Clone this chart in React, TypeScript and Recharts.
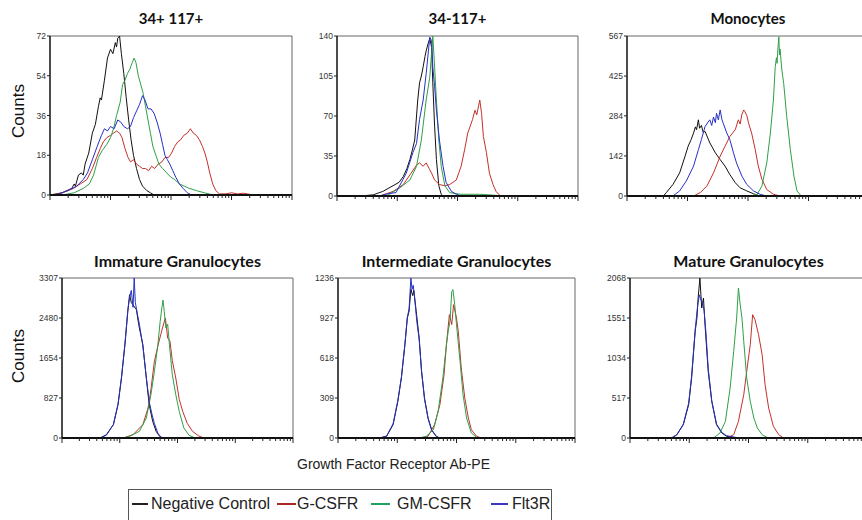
import React from "react";
import { LineChart, Line, XAxis, YAxis, ReferenceLine } from "recharts";

type Pt = [number, number];

// x = log decade of the PE channel (0..4), y = counts

// 34+ 117+
const p1Neg: Pt[] = [[0,0],[0.1,0.5],[0.2,1],[0.28,2],[0.36,3],[0.4,5],[0.42,4],[0.47,9],[0.52,10],[0.55,9],[0.58,14],[0.64,19],[0.7,28],[0.75,32],[0.8,40],[0.83,44],[0.85,43],[0.9,52],[0.95,62],[1.0,66],[1.04,64],[1.08,69],[1.1,67],[1.12,71],[1.15,72],[1.18,64],[1.22,55],[1.26,44],[1.3,34],[1.34,25],[1.38,18],[1.43,12],[1.48,7],[1.53,4],[1.6,2],[1.66,1],[1.72,0]];
const p1G: Pt[] = [[0.05,0],[0.2,1],[0.39,3],[0.5,5],[0.61,7],[0.7,12],[0.77,17],[0.83,21],[0.88,24],[0.94,26],[1.0,27],[1.05,28],[1.1,29],[1.15,28],[1.19,26],[1.24,21],[1.29,17],[1.33,15],[1.38,16],[1.43,14],[1.48,13],[1.53,12],[1.58,12],[1.63,11],[1.68,13],[1.73,12],[1.79,14],[1.85,15],[1.9,17],[1.96,17],[2.01,19],[2.06,22],[2.11,24],[2.16,25],[2.21,27],[2.27,28],[2.32,30],[2.37,28],[2.42,27],[2.47,25],[2.52,22],[2.56,19],[2.6,15],[2.64,10],[2.69,5],[2.74,2],[2.8,0.5],[2.9,0.5],[3.0,1],[3.1,0.5],[3.2,0.8],[3.3,0.3],[3.36,0]];
const p1Gm: Pt[] = [[0.2,0],[0.4,1],[0.55,3],[0.65,5],[0.72,9],[0.8,17],[0.86,20],[0.94,23],[1.0,26],[1.05,30],[1.1,36],[1.16,42],[1.2,50],[1.24,52],[1.28,55],[1.32,57],[1.36,60],[1.39,62],[1.42,60],[1.46,54],[1.5,50],[1.54,46],[1.58,40],[1.62,34],[1.66,28],[1.7,22],[1.75,18],[1.8,14],[1.86,12],[1.93,10],[2.0,8],[2.06,7],[2.14,5],[2.22,4],[2.3,3],[2.42,2],[2.55,1],[2.7,0]];
const p1Flt: Pt[] = [[0.1,0],[0.3,2],[0.44,4],[0.55,7],[0.62,10],[0.7,16],[0.78,22],[0.85,27],[0.9,30],[0.95,29],[1.0,31],[1.06,30],[1.12,34],[1.17,33],[1.22,31],[1.28,30],[1.33,31],[1.38,35],[1.43,38],[1.48,41],[1.53,45],[1.57,43],[1.62,39],[1.67,39],[1.72,37],[1.77,33],[1.82,28],[1.86,23],[1.9,18],[1.94,16],[1.98,14],[2.03,11],[2.08,8],[2.14,5],[2.2,3],[2.27,1],[2.34,0]];

// 34-117+
const p2Neg: Pt[] = [[0.38,0],[0.6,1],[0.76,4],[0.93,9],[1.03,12],[1.1,17],[1.16,24],[1.21,32],[1.25,40],[1.29,49],[1.32,70],[1.34,84],[1.37,99],[1.4,105],[1.43,113],[1.46,122],[1.48,127],[1.51,133],[1.54,138],[1.57,130],[1.59,99],[1.62,61],[1.65,32],[1.69,9],[1.73,1.5],[1.76,0]];
const p2G: Pt[] = [[0.71,0],[0.93,4],[1.1,10],[1.23,20],[1.32,27],[1.37,29],[1.43,26],[1.48,29],[1.53,24],[1.57,20],[1.62,14],[1.7,10],[1.79,9],[1.87,10],[1.98,14],[2.06,26],[2.12,41],[2.17,55],[2.25,67],[2.29,75],[2.32,71],[2.37,84],[2.4,72],[2.43,52],[2.48,38],[2.53,20],[2.59,10],[2.64,4],[2.7,0.6],[2.76,0]];
const p2Gm: Pt[] = [[0.82,0],[1.04,7],[1.21,14],[1.32,26],[1.4,49],[1.48,84],[1.54,104],[1.59,140],[1.62,113],[1.65,84],[1.69,49],[1.73,26],[1.79,9],[1.87,3],[2.04,1.5],[2.37,1.5],[2.64,0.6],[2.7,0]];
const p2Flt: Pt[] = [[0.7,0],[0.85,2],[0.98,3],[1.15,20],[1.26,38],[1.32,46],[1.37,67],[1.43,84],[1.48,107],[1.54,139],[1.57,136],[1.59,113],[1.62,96],[1.65,75],[1.7,49],[1.76,26],[1.81,12],[1.9,4],[1.98,1.5],[2.06,0]];

// Monocytes
const p3Neg: Pt[] = [[0.6,0],[0.65,12],[0.76,41],[0.87,82],[0.96,141],[1.01,176],[1.06,200],[1.1,223],[1.13,245],[1.15,235],[1.18,270],[1.2,240],[1.23,250],[1.26,225],[1.29,229],[1.37,188],[1.46,153],[1.54,129],[1.62,106],[1.7,76],[1.79,47],[1.87,29],[1.98,18],[2.09,8],[2.2,0]];
const p3G: Pt[] = [[1.1,0],[1.21,12],[1.32,35],[1.43,82],[1.54,141],[1.62,176],[1.7,211],[1.79,235],[1.84,270],[1.87,255],[1.9,290],[1.93,305],[1.95,299],[1.98,285],[2.01,258],[2.06,223],[2.12,164],[2.17,106],[2.23,59],[2.31,23],[2.42,6],[2.53,0]];
const p3Gm: Pt[] = [[2.04,0],[2.15,6],[2.23,35],[2.31,117],[2.37,223],[2.42,340],[2.45,458],[2.47,490],[2.48,470],[2.5,540],[2.51,564],[2.52,500],[2.53,520],[2.56,446],[2.59,399],[2.64,282],[2.7,164],[2.76,70],[2.81,18],[2.87,2],[2.92,0]];
const p3Flt: Pt[] = [[0.76,0],[0.87,18],[0.98,53],[1.1,106],[1.18,164],[1.23,200],[1.29,246],[1.34,262],[1.37,270],[1.4,250],[1.43,280],[1.46,260],[1.48,293],[1.51,270],[1.54,305],[1.57,270],[1.59,258],[1.65,223],[1.7,200],[1.76,153],[1.81,117],[1.9,70],[1.98,41],[2.09,18],[2.2,6],[2.31,0]];

// Immature Granulocytes
const p4Neg: Pt[] = [[0.66,0],[0.77,69],[0.89,276],[0.97,689],[1.03,1240],[1.09,1929],[1.14,2618],[1.17,2963],[1.2,2800],[1.23,2750],[1.29,2650],[1.31,2480],[1.34,2274],[1.4,1929],[1.46,1240],[1.51,689],[1.57,345],[1.63,138],[1.69,34],[1.74,0]];
const p4G: Pt[] = [[1.06,0],[1.23,69],[1.4,276],[1.49,620],[1.54,1000],[1.6,1585],[1.66,1900],[1.71,2136],[1.74,2274],[1.79,2480],[1.83,2067],[1.87,2000],[1.91,1600],[1.97,1240],[2.03,800],[2.09,551],[2.17,300],[2.26,138],[2.37,40],[2.46,0]];
const p4Gm: Pt[] = [[1.06,0],[1.17,34],[1.34,138],[1.46,413],[1.54,896],[1.6,1378],[1.66,1929],[1.7,2412],[1.73,2700],[1.75,2850],[1.77,2618],[1.8,2274],[1.83,2350],[1.86,1929],[1.91,1309],[1.97,896],[2.03,551],[2.11,207],[2.2,55],[2.31,0]];
const p4Flt: Pt[] = [[0.66,0],[0.77,60],[0.89,280],[0.97,700],[1.03,1250],[1.09,1950],[1.14,2650],[1.17,2900],[1.2,3050],[1.23,2700],[1.25,3307],[1.27,2800],[1.3,2600],[1.34,2350],[1.4,1900],[1.46,1250],[1.51,750],[1.56,480],[1.6,300],[1.66,100],[1.71,20],[1.77,0]];

// Intermediate Granulocytes
const p5Neg: Pt[] = [[0.7,0],[0.82,13],[0.93,103],[1.01,283],[1.07,464],[1.13,721],[1.17,927],[1.2,979],[1.23,1150],[1.26,1100],[1.28,1140],[1.32,979],[1.37,773],[1.41,515],[1.46,309],[1.52,155],[1.58,64],[1.66,13],[1.72,0]];
const p5G: Pt[] = [[1.38,0],[1.52,13],[1.63,103],[1.72,258],[1.79,489],[1.83,721],[1.88,953],[1.92,876],[1.95,1030],[2.0,927],[2.03,824],[2.08,541],[2.14,309],[2.2,155],[2.25,64],[2.34,13],[2.42,0]];
const p5Gm: Pt[] = [[1.38,0],[1.49,13],[1.61,64],[1.69,206],[1.77,464],[1.83,721],[1.86,824],[1.89,901],[1.92,1133],[1.94,1146],[1.97,1030],[2.0,876],[2.06,592],[2.11,335],[2.17,155],[2.25,39],[2.34,5],[2.39,0]];
const p5Flt: Pt[] = [[0.7,0],[0.82,15],[0.93,110],[1.01,290],[1.07,470],[1.13,730],[1.17,930],[1.2,1000],[1.23,1236],[1.25,1150],[1.27,1180],[1.3,1050],[1.33,900],[1.37,760],[1.41,520],[1.46,300],[1.52,150],[1.58,60],[1.66,10],[1.72,0]];

// Mature Granulocytes
const p6Neg: Pt[] = [[0.7,0],[0.79,43],[0.9,172],[0.99,431],[1.04,775],[1.1,1378],[1.13,1551],[1.15,1809],[1.18,2068],[1.21,1680],[1.24,1809],[1.27,1422],[1.32,862],[1.38,474],[1.46,172],[1.55,65],[1.63,22],[1.75,8],[1.86,0]];
const p6G: Pt[] = [[1.63,0],[1.75,43],[1.83,215],[1.92,560],[1.97,862],[2.03,1206],[2.07,1594],[2.11,1529],[2.17,1335],[2.23,1077],[2.28,689],[2.34,388],[2.42,151],[2.51,43],[2.59,0]];
const p6Gm: Pt[] = [[1.41,0],[1.52,65],[1.61,215],[1.69,646],[1.75,1120],[1.8,1551],[1.83,1939],[1.86,1723],[1.89,1551],[1.92,1249],[1.97,775],[2.03,474],[2.09,258],[2.15,129],[2.23,43],[2.31,9],[2.37,0]];
const p6Flt: Pt[] = [[0.7,0],[0.79,40],[0.9,180],[0.99,450],[1.04,800],[1.1,1400],[1.14,1700],[1.17,1850],[1.19,1800],[1.22,1750],[1.25,1650],[1.28,1380],[1.32,900],[1.38,480],[1.46,180],[1.55,70],[1.63,30],[1.75,12],[1.86,0]];

const titles = ["34+ 117+", "34-117+", "Monocytes", "Immature Granulocytes", "Intermediate Granulocytes", "Mature Granulocytes"];
const yTicks = [
  [0, 18, 36, 54, 72],
  [0, 35, 70, 105, 140],
  [0, 142, 284, 425, 567],
  [0, 827, 1654, 2480, 3307],
  [0, 309, 618, 927, 1236],
  [0, 517, 1034, 1551, 2068],
];
const seriesNames = ["Negative Control", "G-CSFR", "GM-CSFR", "Flt3R"];
const panelData = [
  [p1Neg, p1G, p1Gm, p1Flt],
  [p2Neg, p2G, p2Gm, p2Flt],
  [p3Neg, p3G, p3Gm, p3Flt],
  [p4Neg, p4G, p4Gm, p4Flt],
  [p5Neg, p5G, p5Gm, p5Flt],
  [p6Neg, p6G, p6Gm, p6Flt],
];

const COLORS = ["#111111", "#c4302b", "#2ea046", "#2630c4"];
const LEGEND_COLORS = ["#222222", "#a82828", "#22a060", "#3a3ac0"];

// plot boxes in page pixels: left, top, width, height, title top, title size
const boxes = [
  { l: 50, t: 36, w: 242, h: 159, tt: 9, fs: 15 },
  { l: 337, t: 36, w: 241, h: 160, tt: 9, fs: 15 },
  { l: 627, t: 36, w: 242, h: 160, tt: 9, fs: 15 },
  { l: 62, t: 278, w: 231, h: 160, tt: 252, fs: 16 },
  { l: 338, t: 278, w: 237, h: 160, tt: 252, fs: 16 },
  { l: 630, t: 278, w: 237, h: 160, tt: 252, fs: 16 },
];

// legend layout: line start, line end, text start (page x)
const legendPos = [
  [132, 148, 151],
  [277, 296, 297],
  [371, 390, 397],
  [491, 508, 512],
];

const xTicks: number[] = [];
for (let d = 0; d < 4; d++) {
  xTicks.push(d);
  for (let k = 2; k < 10; k++) xTicks.push(d + Math.log10(k));
}
xTicks.push(4);

const XTick = (props: any) => {
  const { x, y, payload } = props;
  const v = payload.value;
  const major = Math.abs(v - Math.round(v)) < 1e-6;
  return <line x1={x} x2={x} y1={y} y2={y + (major ? 5 : 3)} stroke="#222" strokeWidth={1} />;
};

const YTick = (props: any) => {
  const { x, y, payload } = props;
  return (
    <g>
      <line x1={x - 3} x2={x} y1={y} y2={y} stroke="#222" strokeWidth={1} />
      <text x={x - 4} y={y} dy={3} textAnchor="end" fontSize={8.5} fill="#333" fontFamily="'Liberation Sans Narrow', 'Liberation Sans', sans-serif">
        {payload.value}
      </text>
    </g>
  );
};

function Panel({ idx }: { idx: number }) {
  const b = boxes[idx];
  const ticks = yTicks[idx];
  const ymax = ticks[ticks.length - 1];
  const left = 40, top = 10, right = 6, bottom = 12;
  return (
    <>
      <div style={{ position: "absolute", left: b.l - 20, top: b.tt, width: b.w + 40, textAlign: "center", fontFamily: "Lato, 'Open Sans', sans-serif", fontWeight: 700, fontSize: b.fs, lineHeight: "18px", color: "#111", whiteSpace: "nowrap" }}>
        {titles[idx]}
      </div>
      <div style={{ position: "absolute", left: b.l - left, top: b.t - top }}>
        <LineChart width={b.w + left + right} height={b.h + top + bottom} margin={{ top, right, bottom: 0, left: 0 }}>
          <XAxis dataKey="x" type="number" domain={[0, 4]} ticks={xTicks} interval={0} height={bottom} tick={<XTick />} tickLine={false} tickSize={0} tickMargin={0} axisLine={{ stroke: "#111", strokeWidth: 2 }} allowDataOverflow />
          <YAxis type="number" domain={[0, ymax]} ticks={ticks} interval={0} width={left} tick={<YTick />} tickLine={false} tickSize={0} tickMargin={0} axisLine={{ stroke: "#111", strokeWidth: 1.5 }} allowDataOverflow />
          <ReferenceLine y={ymax} stroke="#666" strokeWidth={1} />
          <ReferenceLine x={4} stroke="#666" strokeWidth={1} />
          {panelData[idx].map((pts, i) => (
            <Line key={i} data={pts.map(([x, y]) => ({ x, y }))} dataKey="y" name={seriesNames[i]} type="linear" stroke={COLORS[i]} strokeWidth={1} dot={false} activeDot={false} isAnimationActive={false} />
          ))}
        </LineChart>
      </div>
    </>
  );
}

const countsStyle = (cy: number): React.CSSProperties => ({
  position: "absolute", left: 19, top: cy, transform: "translate(-50%, -50%) rotate(-90deg)",
  fontFamily: "'Liberation Sans', Arial, sans-serif", fontSize: 17, color: "#111", whiteSpace: "nowrap",
});

const sans = "'Liberation Sans', Arial, sans-serif";

export default function App() {
  return (
    <div style={{ position: "absolute", left: 0, top: 0, width: 862, height: 520, overflow: "hidden", background: "#fff" }}>
      {[0, 1, 2, 3, 4, 5].map((i) => <Panel key={i} idx={i} />)}
      <div style={countsStyle(111)}>Counts</div>
      <div style={countsStyle(356)}>Counts</div>
      <div style={{ position: "absolute", left: 297, top: 456, fontFamily: sans, fontSize: 14, lineHeight: "16px", color: "#222", whiteSpace: "nowrap" }}>
        Growth Factor Receptor Ab-PE
      </div>
      <div style={{ position: "absolute", left: 128, top: 489, width: 424, height: 40, border: "1px solid #555", boxSizing: "border-box" }} />
      {seriesNames.map((n, i) => {
        const [a, b, tx] = legendPos[i];
        return (
          <React.Fragment key={n}>
            <div style={{ position: "absolute", left: a, top: 503, width: b - a, borderTop: `2px solid ${LEGEND_COLORS[i]}` }} />
            <div style={{ position: "absolute", left: tx, top: 495, fontFamily: sans, fontSize: 16, lineHeight: "18px", color: "#222", whiteSpace: "nowrap" }}>{n}</div>
          </React.Fragment>
        );
      })}
    </div>
  );
}
